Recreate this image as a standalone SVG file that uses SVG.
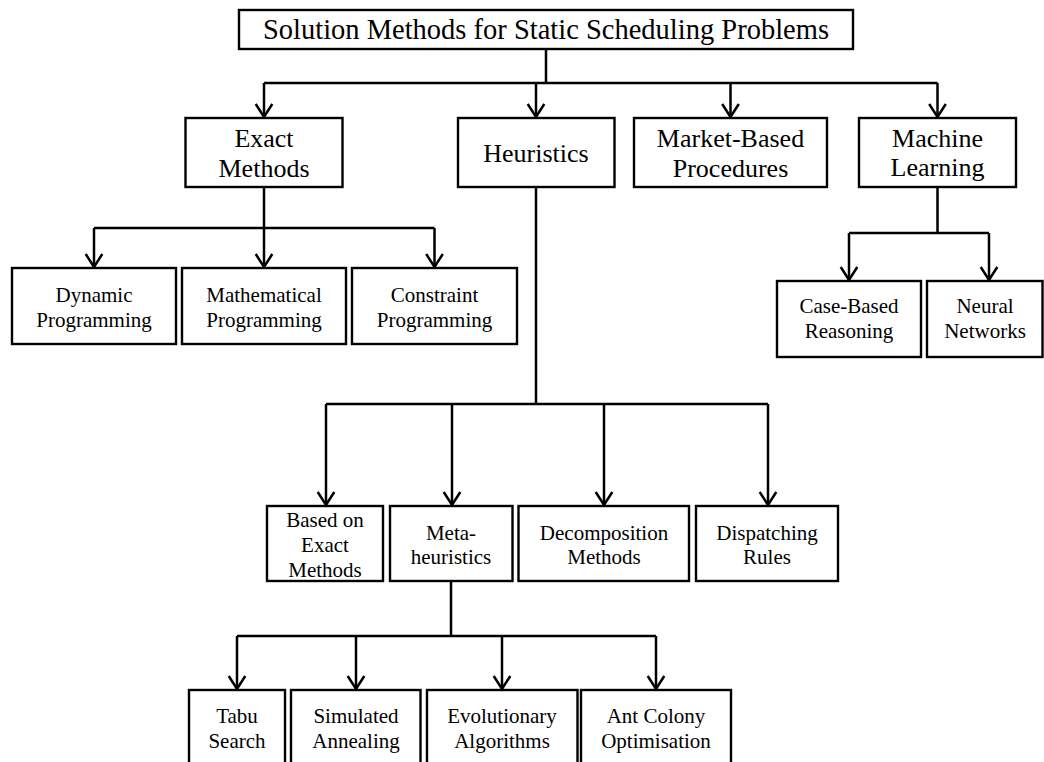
<svg xmlns="http://www.w3.org/2000/svg" width="1044" height="762" viewBox="0 0 1044 762">
  <style>
    .box { fill: #ffffff; stroke: #000000; stroke-width: 2.4; }
    .t { font-family: "Liberation Serif", "Times New Roman", serif; fill: #000000; text-anchor: middle; }
    .t28 { font-size: 28.5px; }
    .t26 { font-size: 26px; }
    .t21 { font-size: 21px; }
    .wire { fill: none; stroke: #000000; stroke-width: 2.5; }
    .drop { fill: none; stroke: #000000; stroke-width: 2.5; marker-end: url(#vhead); }
  </style>
  <defs>
    <marker id="vhead" viewBox="-15 -10 17 20" refX="0" refY="0" markerWidth="17" markerHeight="20" markerUnits="userSpaceOnUse" orient="auto" overflow="visible">
      <path d="M-13,-8.3 L0,0 L-13,8.3" fill="none" stroke="#000000" stroke-width="2.5" stroke-linejoin="miter"/>
    </marker>
  </defs>
  <rect width="1044" height="762" fill="#ffffff"/>

  <!-- connectors -->
  <g id="connectors">
    <!-- root to first level -->
    <path class="wire" d="M546,49 V83 M264,83 H937.5"/>
    <path class="drop" d="M264,83 V117"/>
    <path class="drop" d="M536,83 V117"/>
    <path class="drop" d="M730.5,83 V117"/>
    <path class="drop" d="M937.5,83 V117"/>
    <!-- exact methods -->
    <path class="wire" d="M264,187 V228 M94,228 H434.5"/>
    <path class="drop" d="M94,228 V267"/>
    <path class="drop" d="M264,228 V267"/>
    <path class="drop" d="M434.5,228 V267"/>
    <!-- machine learning -->
    <path class="wire" d="M937.5,187 V233 M849,233 H989"/>
    <path class="drop" d="M849,233 V280"/>
    <path class="drop" d="M989,233 V280"/>
    <!-- heuristics -->
    <path class="wire" d="M536,187 V404 M326,404 H768"/>
    <path class="drop" d="M326,404 V505"/>
    <path class="drop" d="M452,404 V505"/>
    <path class="drop" d="M604,404 V505"/>
    <path class="drop" d="M768,404 V505"/>
    <!-- metaheuristics -->
    <path class="wire" d="M451,581 V636 M237,636 H656"/>
    <path class="drop" d="M237,636 V689"/>
    <path class="drop" d="M356,636 V689"/>
    <path class="drop" d="M502,636 V689"/>
    <path class="drop" d="M656,636 V689"/>
  </g>

  <!-- root -->
  <g id="root">
    <rect class="box" x="239" y="10" width="614" height="39"/>
    <text class="t t28" x="546" y="38.5">Solution Methods for Static Scheduling Problems</text>
  </g>

  <!-- first level -->
  <g id="exact">
    <rect class="box" x="185.5" y="118" width="157" height="69"/>
    <text class="t t26" x="264" y="147">Exact</text>
    <text class="t t26" x="264" y="177">Methods</text>
  </g>
  <g id="heuristics">
    <rect class="box" x="458" y="118" width="156.5" height="69"/>
    <text class="t t26" x="536" y="162">Heuristics</text>
  </g>
  <g id="market">
    <rect class="box" x="634" y="118" width="193" height="69"/>
    <text class="t t26" x="730.5" y="147">Market-Based</text>
    <text class="t t26" x="730.5" y="177">Procedures</text>
  </g>
  <g id="ml">
    <rect class="box" x="859" y="118" width="157" height="69"/>
    <text class="t t26" x="937.5" y="147">Machine</text>
    <text class="t t26" x="937.5" y="176">Learning</text>
  </g>

  <!-- exact methods children -->
  <g id="dp">
    <rect class="box" x="12" y="268" width="164" height="76"/>
    <text class="t t21" x="94" y="302">Dynamic</text>
    <text class="t t21" x="94" y="327">Programming</text>
  </g>
  <g id="mp">
    <rect class="box" x="182" y="268" width="164" height="76"/>
    <text class="t t21" x="264" y="302">Mathematical</text>
    <text class="t t21" x="264" y="327">Programming</text>
  </g>
  <g id="cp">
    <rect class="box" x="352" y="268" width="165" height="76"/>
    <text class="t t21" x="434.5" y="302">Constraint</text>
    <text class="t t21" x="434.5" y="327">Programming</text>
  </g>

  <!-- machine learning children -->
  <g id="cbr">
    <rect class="box" x="777" y="281" width="144" height="76"/>
    <text class="t t21" x="849" y="313">Case-Based</text>
    <text class="t t21" x="849" y="338">Reasoning</text>
  </g>
  <g id="nn">
    <rect class="box" x="927" y="281" width="115.5" height="76"/>
    <text class="t t21" x="985" y="313">Neural</text>
    <text class="t t21" x="985" y="338">Networks</text>
  </g>

  <!-- heuristics children -->
  <g id="based">
    <rect class="box" x="267" y="506" width="116" height="75"/>
    <text class="t t21" x="325" y="527">Based on</text>
    <text class="t t21" x="325" y="552">Exact</text>
    <text class="t t21" x="325" y="577">Methods</text>
  </g>
  <g id="meta">
    <rect class="box" x="390" y="506" width="122.5" height="75"/>
    <text class="t t21" x="451" y="540">Meta-</text>
    <text class="t t21" x="451" y="564">heuristics</text>
  </g>
  <g id="decomp">
    <rect class="box" x="518.5" y="506" width="170.5" height="75"/>
    <text class="t t21" x="604" y="540">Decomposition</text>
    <text class="t t21" x="604" y="564">Methods</text>
  </g>
  <g id="dispatch">
    <rect class="box" x="696" y="506" width="142" height="75"/>
    <text class="t t21" x="767" y="540">Dispatching</text>
    <text class="t t21" x="767" y="564">Rules</text>
  </g>

  <!-- metaheuristics children -->
  <g id="tabu">
    <rect class="box" x="189" y="690" width="96" height="80"/>
    <text class="t t21" x="237" y="723">Tabu</text>
    <text class="t t21" x="237" y="748">Search</text>
  </g>
  <g id="sa">
    <rect class="box" x="291" y="690" width="129.5" height="80"/>
    <text class="t t21" x="356" y="723">Simulated</text>
    <text class="t t21" x="356" y="748">Annealing</text>
  </g>
  <g id="ea">
    <rect class="box" x="427" y="690" width="150.5" height="80"/>
    <text class="t t21" x="502" y="723">Evolutionary</text>
    <text class="t t21" x="502" y="748">Algorithms</text>
  </g>
  <g id="aco">
    <rect class="box" x="581" y="690" width="150" height="80"/>
    <text class="t t21" x="656" y="723">Ant Colony</text>
    <text class="t t21" x="656" y="748">Optimisation</text>
  </g>
</svg>
